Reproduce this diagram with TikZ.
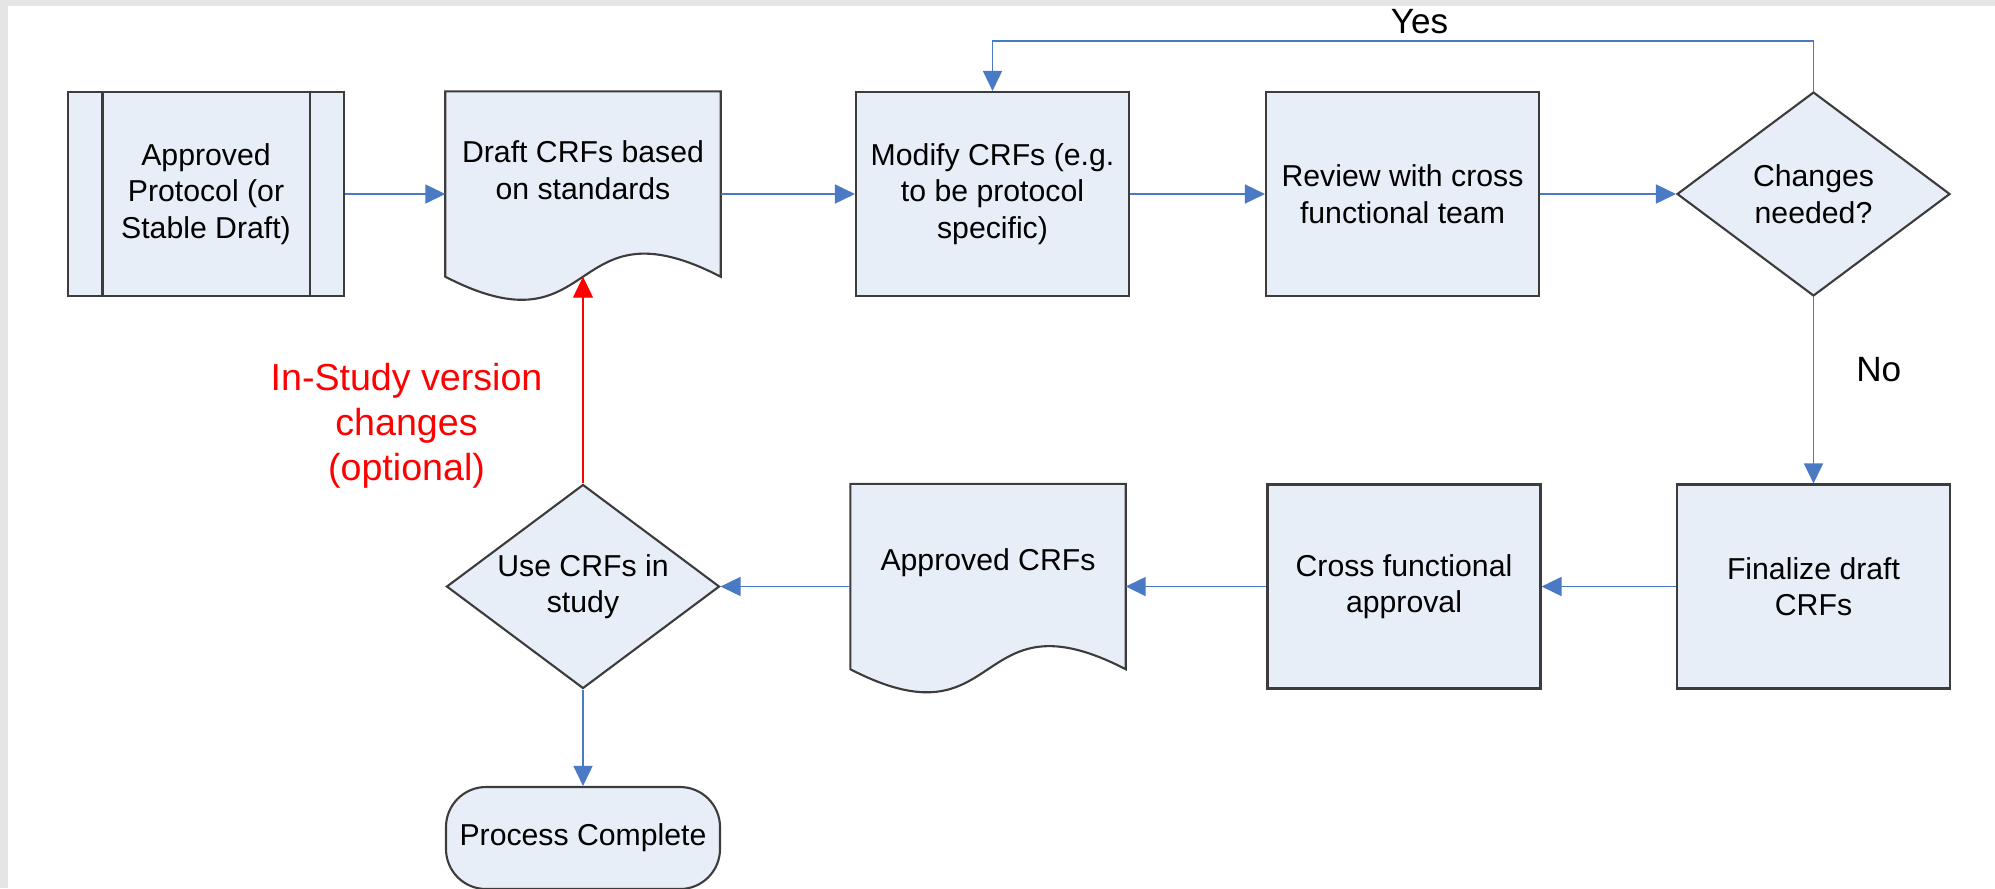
\documentclass[tikz,border=0pt]{standalone}
\usepackage{fontspec}
\setmainfont{Liberation Sans}
\usetikzlibrary{shapes.geometric,arrows.meta}
\definecolor{boxfill}{RGB}{232,238,248}
\definecolor{boxedge}{RGB}{60,60,60}
\definecolor{flowblue}{RGB}{74,122,196}
\begin{document}
\begin{tikzpicture}[
    box/.style={rectangle,draw=boxedge,fill=boxfill,line width=0.6pt,
      minimum width=2.73cm,minimum height=2.04cm,inner sep=0pt,
      align=center,font=\fontsize{8.6}{10.4}\selectfont},
    docbox/.style={rectangle,minimum width=2.74cm,minimum height=2.04cm,inner sep=0pt},
    doctext/.style={align=center,inner sep=0pt,font=\fontsize{8.6}{10.4}\selectfont},
    decision/.style={diamond,aspect=1.34,draw=boxedge,fill=boxfill,line width=0.6pt,
      minimum width=2.73cm,minimum height=2.04cm,inner sep=0pt,
      align=center,font=\fontsize{8.6}{10.4}\selectfont},
    terminal/.style={box,rounded corners=0.4cm,minimum width=2.74cm,minimum height=1.02cm},
    flow/.style={draw=flowblue,line width=0.45pt,-{Triangle[length=2mm,width=1.9mm]}},
    redflow/.style={draw=red,line width=0.35pt,-{Triangle[length=2.1mm,width=2mm]}},
    yesno/.style={inner sep=0pt,font=\fontsize{10}{12}\selectfont},
    redlabel/.style={inner sep=0pt,align=center,text=red,font=\fontsize{10.7}{12.8}\selectfont}
  ]
  \useasboundingbox (0,0) rectangle (19.95,-8.88);
  % cornice grigia in alto e a sinistra
  \fill[black!10] (0,0) rectangle (19.95,-0.06);
  \fill[black!10] (0,0) rectangle (0.08,-8.88);

  % prima riga
  \node (prot) [box,minimum width=2.76cm] at (2.06,-1.94) {Approved\\Protocol (or\\Stable Draft)};
  \draw[boxedge,line width=0.6pt]
    ([xshift=0.355cm]prot.north west) -- ([xshift=0.355cm]prot.south west)
    ([xshift=-0.355cm]prot.north east) -- ([xshift=-0.355cm]prot.south east);
  \node (draft) [docbox] at (5.83,-1.94) {};
  \node (modify) [box] at (9.925,-1.94) {Modify CRFs (e.g.\\to be protocol\\specific)};
  \node (review) [box] at (14.025,-1.94) {Review with cross\\functional team};
  \node (changes) [decision] at (18.135,-1.94) {Changes\\needed?};

  % seconda riga
  \node (final) [box] at (18.135,-5.865) {Finalize draft\\CRFs};
  \node (cross) [box] at (14.04,-5.865) {Cross functional\\approval};
  \node (apprcrf) [docbox] at (9.88,-5.865) {};
  \node (use) [decision] at (5.83,-5.865) {Use CRFs in\\study};
  \node (done) [terminal] at (5.83,-8.38) {Process Complete};

  % documenti con bordo ondulato
  \foreach \d in {draft,apprcrf}
    \filldraw[draw=boxedge,fill=boxfill,line width=0.6pt]
      (\d.north west) -- (\d.north east) -- ([yshift=0.2cm]\d.south east)
      .. controls +(-1.55,0.8) and +(1.55,-0.8) .. ([yshift=0.2cm]\d.south west) -- cycle;
  \node (drafttxt) [doctext] at ([yshift=0.24cm]draft.center) {Draft CRFs based\\on standards};
  \node (apprtxt) [doctext] at ([yshift=0.235cm]apprcrf.center) {Approved CRFs};

  % collegamenti
  \draw[flow] (prot) -- (draft);
  \draw[flow] (draft) -- (modify);
  \draw[flow] (modify) -- (review);
  \draw[flow] (review) -- (changes);
  \coordinate (yesturn) at (18.135,-0.41);
  \draw[flow] (changes.north) -- (yesturn) -| node[pos=0.24,above=0.06cm,yesno] {Yes} (modify.north);
  \draw[flow] (changes) -- node[pos=0.39,right=0.42cm,yesno] {No} (final);
  \draw[flow] (final) -- (cross);
  \draw[flow] (cross) -- (apprcrf);
  \draw[flow] (apprcrf) -- (use);
  \draw[flow] (use) -- (done);
  \coordinate (draftwave) at ([yshift=0.2cm]draft.south);
  \draw[redflow] (use) -- node[pos=0.28,left=0.4cm,redlabel] {In-Study version\\changes\\(optional)} (draftwave);
\end{tikzpicture}
\end{document}
